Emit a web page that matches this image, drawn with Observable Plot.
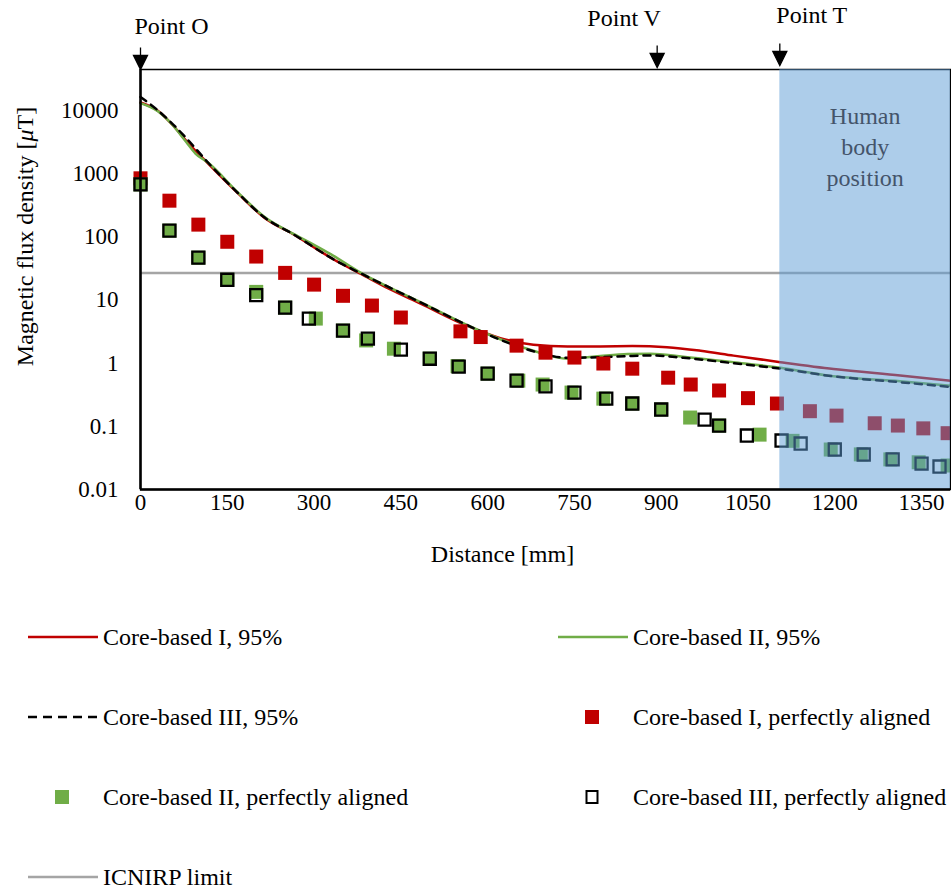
<!DOCTYPE html>
<html><head><meta charset="utf-8">
<script src="https://cdn.jsdelivr.net/npm/d3@7"></script>
<script src="https://cdn.jsdelivr.net/npm/@observablehq/plot@0.6"></script>
<style>
body{margin:0;background:#fff;}
#wrap{position:relative;width:951px;height:892px;font-family:"Liberation Serif","Times New Roman",serif;color:#000;}
.leg{position:absolute;height:30px;display:flex;align-items:center;font-size:24px;white-space:nowrap;}
.leg svg{flex:none;}
</style></head><body><div id="wrap"></div>
<script>
// ---------- data ----------
const xTicks = [0, 150, 300, 450, 600, 750, 900, 1050, 1200, 1350];
const yTicks = [0.01, 0.1, 1, 10, 100, 1000, 10000];
const icnirpLimit = 27;
const pointNames = ["Point O", "Point V", "Point T"];
const pointX = [0, 893, 1105];
const bodyStart = 1105;
const xMax = 1400;
const yMin = 0.01, yMax = 45000;

// Core-based I, 95%
const redLineX = [0, 30, 55, 79, 117, 169, 214, 266, 334, 381, 430, 484, 565, 622, 679, 738, 795, 850, 910, 968, 1025, 1106, 1198, 1313, 1400];
const redLineY = [13500, 10000, 6000, 3350, 1450, 485, 202, 108, 44, 26, 15, 8.8, 3.9, 2.5, 1.97, 1.85, 1.85, 1.87, 1.8, 1.58, 1.32, 1.04, 0.81, 0.64, 0.53];
// Core-based II, 95%
const greenLineX = [0, 30, 55, 79, 95, 117, 169, 214, 266, 300, 328, 381, 484, 565, 622, 679, 738, 766, 795, 842, 881, 938, 1025, 1106, 1198, 1313, 1400];
const greenLineY = [13200, 9800, 6000, 3200, 2100, 1500, 500, 210, 110, 75, 54, 27, 9.3, 4.0, 2.4, 1.58, 1.18, 1.23, 1.3, 1.4, 1.42, 1.27, 1.04, 0.85, 0.62, 0.52, 0.44];
// Core-based III, 95%
const blackLineX = [0, 27, 53, 79, 117, 169, 214, 266, 334, 381, 484, 565, 622, 679, 738, 795, 842, 881, 938, 1025, 1106, 1198, 1313, 1400];
const blackLineY = [16500, 10700, 6500, 3700, 1500, 490, 205, 108, 44, 26.5, 9.2, 4.0, 2.35, 1.55, 1.22, 1.25, 1.3, 1.33, 1.22, 1.0, 0.82, 0.62, 0.5, 0.42];

// perfectly aligned
const redPtsX = [0, 50, 100, 150, 200, 250, 300, 350, 400, 450, 553, 588, 650, 700, 750, 800, 850, 912, 951, 1000, 1050, 1100, 1157, 1203, 1269, 1309, 1353, 1395];
const redPtsY = [850, 376, 157, 84, 49, 27, 17.6, 11.7, 8.2, 5.3, 3.2, 2.6, 1.9, 1.47, 1.23, 0.99, 0.82, 0.59, 0.46, 0.37, 0.28, 0.23, 0.174, 0.148, 0.112, 0.103, 0.093, 0.078];
const greenPtsX = [0, 50, 100, 150, 200, 250, 303, 350, 390, 438, 500, 548, 600, 653, 695, 745, 800, 850, 900, 950, 1000, 1070, 1127, 1193, 1245, 1296, 1345, 1395];
const greenPtsY = [680, 126, 47, 21, 13.5, 7.6, 5.1, 3.29, 2.3, 1.7, 1.18, 0.9, 0.685, 0.53, 0.46, 0.343, 0.275, 0.23, 0.185, 0.138, 0.103, 0.074, 0.059, 0.043, 0.036, 0.03, 0.027, 0.024];
const blackPtsX = [0, 50, 100, 150, 200, 250, 291, 350, 393, 450, 500, 550, 600, 650, 700, 750, 805, 850, 900, 975, 1000, 1048, 1108, 1141, 1200, 1250, 1300, 1350, 1381];
const blackPtsY = [680, 126, 47, 21, 12, 7.6, 5.1, 3.29, 2.46, 1.64, 1.18, 0.885, 0.685, 0.53, 0.43, 0.343, 0.275, 0.23, 0.185, 0.128, 0.103, 0.0716, 0.0597, 0.0535, 0.043, 0.0358, 0.03, 0.0257, 0.0231];

const legendLabels = ["Core-based I, 95%", "Core-based II, 95%", "Core-based III, 95%", "Core-based I, perfectly aligned", "Core-based II, perfectly aligned", "Core-based III, perfectly aligned", "ICNIRP limit"];

// ---------- chart ----------
const rows = (xs, ys) => xs.map((x, i) => ({x, y: ys[i]}));
const RED = "#C00000", GREEN = "#70AD47", GRAY = "#A5A5A5";

const arrowDown = {
  draw(ctx) {
    ctx.moveTo(0, -22); ctx.lineTo(0, -14);
    ctx.moveTo(-7, -14); ctx.lineTo(7, -14); ctx.lineTo(0, 0); ctx.closePath();
  }
};

const pointMarks = [
  {dx: 31, dy: -53, ady: 0},
  {dx: -33, dy: -61, ady: -2},
  {dx: 32, dy: -64, ady: -4}
].flatMap((o, i) => [
  Plot.text([i], {x: k => pointX[k], text: k => pointNames[k], frameAnchor: "top", dx: o.dx, dy: o.dy, fontSize: 24, fill: "black"}),
  Plot.dot([i], {x: k => pointX[k], frameAnchor: "top", dy: o.ady, symbol: arrowDown, fill: "black", stroke: "black", strokeWidth: 1.3})
]);

const svg = Plot.plot({
  width: 951, height: 600,
  marginLeft: 140, marginRight: 1, marginTop: 69, marginBottom: 111,
  style: {fontFamily: '"Liberation Serif","Times New Roman",serif', fontSize: "23px", background: "transparent", overflow: "visible", color: "black"},
  x: {domain: [0, xMax]},
  y: {type: "log", domain: [yMin, yMax]},
  marks: [
    Plot.ruleY([icnirpLimit], {stroke: GRAY, strokeWidth: 2.5}),
    Plot.line(rows(redLineX, redLineY), {x: "x", y: "y", stroke: RED, strokeWidth: 2.5, curve: "monotone-x"}),
    Plot.line(rows(greenLineX, greenLineY), {x: "x", y: "y", stroke: GREEN, strokeWidth: 2.5, curve: "monotone-x"}),
    Plot.line(rows(blackLineX, blackLineY), {x: "x", y: "y", stroke: "black", strokeWidth: 2.5, strokeDasharray: "7,6", curve: "monotone-x"}),
    Plot.dot(rows(redPtsX, redPtsY), {x: "x", y: "y", symbol: "square", r: 7.9, fill: RED}),
    Plot.dot(rows(greenPtsX, greenPtsY), {x: "x", y: "y", symbol: "square", r: 7.9, fill: GREEN}),
    Plot.dot(rows(blackPtsX, blackPtsY), {x: "x", y: "y", symbol: "square", r: 6.8, fill: "none", stroke: "black", strokeWidth: 2.3}),
    Plot.frame({stroke: "black", strokeWidth: 1.5}),
    Plot.rect([{x1: bodyStart, x2: xMax}], {x1: "x1", x2: "x2", fill: "#5B9BD5", fillOpacity: 0.5}),
    Plot.ruleY([yMin], {stroke: "black", strokeWidth: 2.5}),
    Plot.ruleX([0], {stroke: "black", strokeWidth: 2.5}),
    Plot.axisX({ticks: xTicks, tickSize: 0, tickPadding: 4, label: null, tickFormat: d => String(d), fontSize: 23}),
    Plot.axisY({ticks: yTicks, tickSize: 0, tickPadding: 22, label: null, tickFormat: d => String(d), fontSize: 23}),
    Plot.text(["Human\nbody\nposition"], {x: () => (bodyStart + xMax) / 2, text: d => d, frameAnchor: "top", lineAnchor: "top", dy: 32, lineHeight: 1.3, fill: "#44546A", fontSize: 24}),
    Plot.text(["Magnetic flux density [μT]"], {text: d => d, frameAnchor: "left", textAnchor: "middle", dx: -115, dy: -43, rotate: -90, fontSize: 24, fill: "black"}),
    Plot.text(["Distance [mm]"], {text: d => d, frameAnchor: "bottom", dx: -43, dy: 72, fontSize: 24, fill: "black"}),
    ...pointMarks
  ]
});

// italic mu
const NS = "http://www.w3.org/2000/svg";
svg.querySelectorAll("text").forEach(t => {
  if (t.textContent.includes("μT") && t.children.length === 0) {
    const [a, b] = t.textContent.split("μ");
    t.textContent = "";
    t.append(a);
    const ts = document.createElementNS(NS, "tspan");
    ts.setAttribute("font-style", "italic");
    ts.textContent = "μ";
    t.append(ts);
    t.append(b);
  }
});

const wrap = document.getElementById("wrap");
wrap.appendChild(svg);
svg.style.position = "absolute"; svg.style.left = "0"; svg.style.top = "0";

// ---------- legend ----------
const swatch = kind => {
  const s = `<svg width="72" height="30" viewBox="0 0 72 30">`;
  if (kind === "red-line") return s + `<line x1="0" x2="70" y1="15" y2="15" stroke="${RED}" stroke-width="2.5"/></svg>`;
  if (kind === "green-line") return s + `<line x1="0" x2="70" y1="15" y2="15" stroke="${GREEN}" stroke-width="2.5"/></svg>`;
  if (kind === "black-dash") return s + `<line x1="0" x2="70" y1="15" y2="15" stroke="black" stroke-width="2.5" stroke-dasharray="9,6"/></svg>`;
  if (kind === "gray-line") return s + `<line x1="0" x2="70" y1="15" y2="15" stroke="${GRAY}" stroke-width="2.5"/></svg>`;
  if (kind === "red-sq") return s + `<rect x="27" y="8" width="14" height="14" fill="${RED}"/></svg>`;
  if (kind === "green-sq") return s + `<rect x="27" y="8" width="14" height="14" fill="${GREEN}"/></svg>`;
  if (kind === "black-box") return s + `<rect x="28.5" y="9" width="11" height="12" fill="none" stroke="black" stroke-width="2"/></svg>`;
};
const legendLayout = [
  {kind: "red-line", left: 28, top: 637},
  {kind: "green-line", left: 558, top: 637},
  {kind: "black-dash", left: 28, top: 717},
  {kind: "red-sq", left: 558, top: 717},
  {kind: "green-sq", left: 28, top: 797},
  {kind: "black-box", left: 558, top: 797},
  {kind: "gray-line", left: 28, top: 877}
];
legendLayout.forEach((it, i) => {
  const d = document.createElement("div");
  d.className = "leg";
  d.style.left = it.left + "px";
  d.style.top = (it.top - 15) + "px";
  d.innerHTML = swatch(it.kind) + `<span style="margin-left:3px">${legendLabels[i]}</span>`;
  wrap.appendChild(d);
});
</script>
</body></html>
